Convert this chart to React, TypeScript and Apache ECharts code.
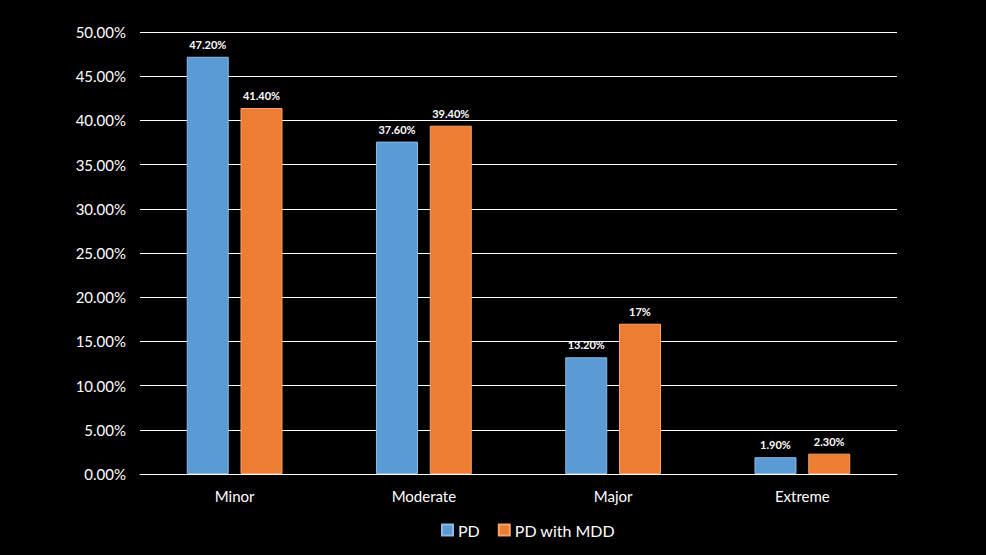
import React, { useEffect, useRef } from 'react';
import * as echarts from 'echarts';

const categories = ['Minor', 'Moderate', 'Major', 'Extreme'];
const pdValues = [47.2, 37.6, 13.2, 1.9];
const pdMddValues = [41.4, 39.4, 17, 2.3];
const pdLabels = ['47.20%', '37.60%', '13.20%', '1.90%'];
const pdMddLabels = ['41.40%', '39.40%', '17%', '2.30%'];

const FONT = 'Lato, "Open Sans", sans-serif';

const App: React.FC = () => {
  const chartRef = useRef<HTMLDivElement>(null);

  useEffect(() => {
    document.body.style.margin = '0';
    document.body.style.background = '#000';
    if (!chartRef.current) return;
    const chart = echarts.init(chartRef.current, undefined, { renderer: 'svg' });

    const labelStyle = (labels: string[]) => ({
      show: true,
      position: 'top' as const,
      distance: 7,
      color: '#ffffff',
      fontSize: 11,
      fontWeight: 'bold' as const,
      fontFamily: FONT,
      formatter: (p: any) => labels[p.dataIndex]
    });

    chart.setOption({
      animation: false,
      backgroundColor: '#000000',
      textStyle: { fontFamily: FONT },
      grid: { left: 140, right: 89, top: 32, bottom: 81 },
      legend: {
        bottom: 12,
        left: 436,
        itemWidth: 11,
        itemHeight: 11,
        itemGap: 18,
        icon: 'rect',
        textStyle: { color: '#ffffff', fontSize: 16, fontFamily: FONT },
        data: ['PD', 'PD with MDD']
      },
      xAxis: {
        type: 'category',
        data: categories,
        axisLine: { lineStyle: { color: '#ffffff', width: 1 } },
        axisTick: { show: false },
        axisLabel: { color: '#ffffff', fontSize: 15, margin: 14, fontFamily: FONT }
      },
      yAxis: {
        type: 'value',
        min: 0,
        max: 50,
        interval: 5,
        axisLine: { show: false },
        axisTick: { show: false },
        splitLine: { lineStyle: { color: '#ffffff', width: 1 } },
        axisLabel: {
          color: '#ffffff',
          fontSize: 15,
          margin: 14,
          fontFamily: FONT,
          formatter: (v: number) => v.toFixed(2) + '%'
        }
      },
      series: [
        {
          name: 'PD',
          type: 'bar',
          data: pdValues,
          barWidth: 42,
          barGap: '28%',
          itemStyle: { color: '#5B9BD5', borderColor: '#8DB9E6', borderWidth: 1 },
          label: labelStyle(pdLabels)
        },
        {
          name: 'PD with MDD',
          type: 'bar',
          data: pdMddValues,
          barWidth: 42,
          barGap: '28%',
          itemStyle: { color: '#ED7D31', borderColor: '#F5A46E', borderWidth: 1 },
          label: labelStyle(pdMddLabels)
        }
      ]
    });

    return () => {
      chart.dispose();
    };
  }, []);

  return <div ref={chartRef} style={{ width: 986, height: 555 }} />;
};

export default App;
